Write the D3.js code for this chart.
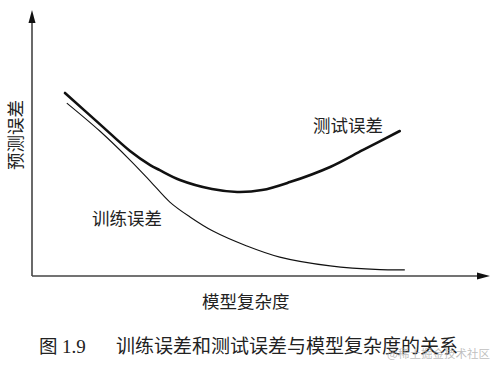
<!DOCTYPE html>
<html>
<head>
<meta charset="utf-8">
<script src="https://cdn.jsdelivr.net/npm/d3@7"></script>
<style>
html,body{margin:0;padding:0;background:#fff;}
svg{display:block;}
</style>
</head>
<body>
<svg id="chart" width="501" height="368"></svg>
<script>
// Data (model complexity 0-100, prediction error 0-100)
const testX  = [7.2, 14.8, 21.4, 25.8, 27.9, 32.3, 39.3, 44.8, 50.2, 56.3, 65.1, 72.3, 80.3];
const testY  = [68.8, 57.1, 47.0, 41.7, 39.8, 36.1, 32.7, 31.6, 32.3, 35.3, 41.0, 47.4, 54.5];
const trainX = [7.6, 14.8, 21.4, 25.8, 30.1, 34.5, 39.5, 46.9, 54.1, 65.1, 76.0, 81.4];
const trainY = [65.0, 54.5, 43.6, 35.7, 27.8, 22.2, 16.9, 11.3, 7.1, 3.8, 2.4, 2.3];
const xLabel = "模型复杂度";
const yLabel = "预测误差";
const testLabel = "测试误差";
const trainLabel = "训练误差";
const captionNum = "图";
const captionIdx = "1.9";
const captionText = "训练误差和测试误差与模型复杂度的关系";
const watermark = "@稀土掘金技术社区";

const svg = d3.select("#chart");
const cjk = "'Noto Sans CJK SC','Noto Sans',sans-serif";

const x = d3.scaleLinear().domain([0, 100]).range([32, 490]);
const y = d3.scaleLinear().domain([0, 100]).range([276, 10]);

// axes
const axisColor = "#444";
svg.append("line")
  .attr("x1", x(0)).attr("y1", y(0)).attr("x2", x(100) - 8).attr("y2", y(0))
  .attr("stroke", axisColor).attr("stroke-width", 1.6);
svg.append("line")
  .attr("x1", x(0)).attr("y1", y(0)).attr("x2", x(0)).attr("y2", y(100) + 8)
  .attr("stroke", axisColor).attr("stroke-width", 1.6);
// arrowheads
svg.append("path")
  .attr("d", `M${x(100)},${y(0)} L${x(100)-13},${y(0)-3.5} L${x(100)-13},${y(0)+3.5} Z`)
  .attr("fill", "#111");
svg.append("path")
  .attr("d", `M${x(0)},${y(100)} L${x(0)-3.5},${y(100)+13} L${x(0)+3.5},${y(100)+13} Z`)
  .attr("fill", "#111");

const line = d3.line()
  .x(d => x(d[0])).y(d => y(d[1]))
  .curve(d3.curveCatmullRom.alpha(0.5));

svg.append("path")
  .datum(testX.map((v, i) => [v, testY[i]]))
  .attr("d", line).attr("fill", "none")
  .attr("stroke", "#111").attr("stroke-width", 2.6)
  .attr("stroke-linecap", "round");
svg.append("path")
  .datum(trainX.map((v, i) => [v, trainY[i]]))
  .attr("d", line).attr("fill", "none")
  .attr("stroke", "#111").attr("stroke-width", 1.1);

const txt = (t, px, py, fs, opts = {}) => svg.append("text")
  .attr("x", px).attr("y", py)
  .attr("font-family", cjk).attr("font-size", fs)
  .attr("fill", opts.fill || "#222")
  .attr("text-anchor", opts.anchor || "start")
  .text(t);

txt(testLabel, 313, 131.5, 17.5);
txt(trainLabel, 92, 224.5, 17.5);
txt(xLabel, 202, 307.5, 17.5);

svg.append("text")
  .attr("transform", "translate(21.5,135) rotate(-90)")
  .attr("text-anchor", "middle")
  .attr("font-family", cjk).attr("font-size", 17.5)
  .attr("fill", "#222")
  .text(yLabel);

// caption
const cap = svg.append("text")
  .attr("x", 39).attr("y", 353)
  .attr("font-family", cjk).attr("font-size", 18.5)
  .attr("fill", "#222");
cap.append("tspan").text(captionNum);
cap.append("tspan").attr("x", 62)
  .attr("font-family", "'Liberation Serif','DejaVu Serif',serif")
  .attr("font-size", 19).text(captionIdx);
cap.append("tspan").attr("x", 116).attr("font-size", 19).text(captionText);

// watermark
txt(watermark, 490, 358, 11.5, {anchor: "end", fill: "rgba(170,170,170,0.75)"});
</script>
</body>
</html>
